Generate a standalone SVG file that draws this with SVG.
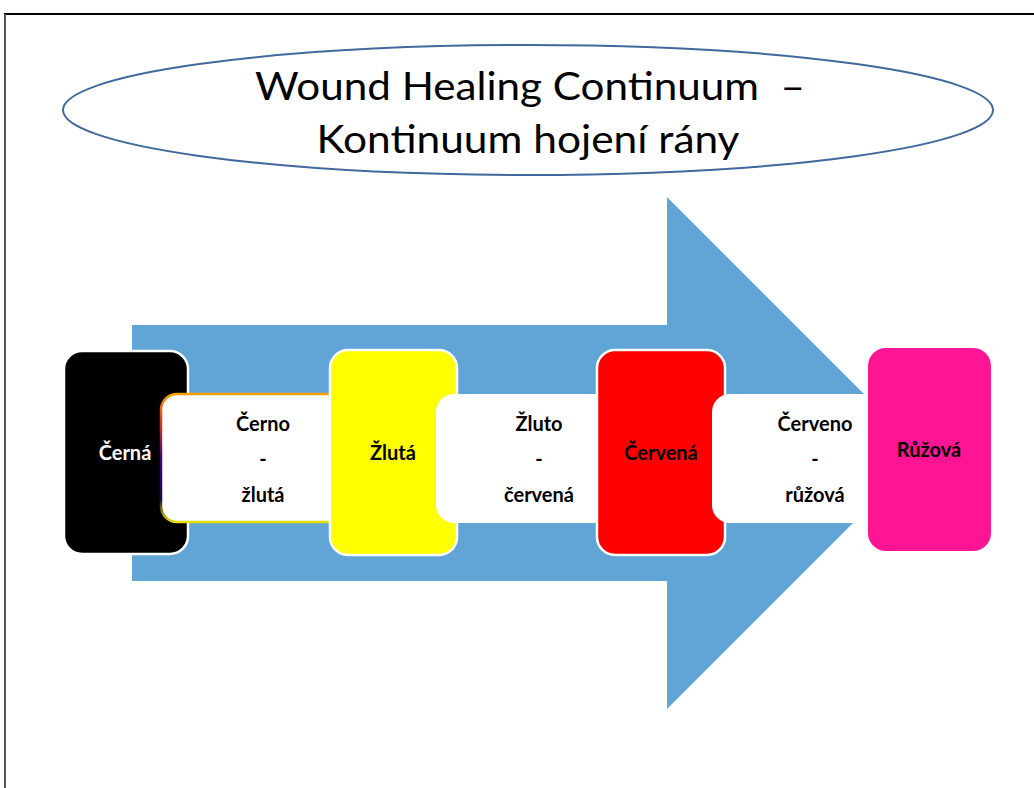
<svg xmlns="http://www.w3.org/2000/svg" width="1034" height="788" viewBox="0 0 1034 788">
  <defs>
    <linearGradient id="g1" x1="0" y1="0" x2="0" y2="1">
      <stop offset="0" stop-color="#F5A200"/>
      <stop offset="0.18" stop-color="#E0481E"/>
      <stop offset="0.5" stop-color="#3A0A6A"/>
      <stop offset="0.82" stop-color="#1A0A40"/>
      <stop offset="1" stop-color="#E6E000"/>
    </linearGradient>
  </defs>
  <style>
    .lbl { font-family: Lato, "Open Sans", sans-serif; font-weight: bold; font-size: 20px; text-anchor: middle; }
    .title { font-family: Lato, "Open Sans", sans-serif; font-size: 38px; text-anchor: middle; fill: #000; }
    .box { stroke: #fff; stroke-width: 2.5; }
    .link { fill: #fff; }
  </style>
  <rect x="0" y="0" width="1034" height="788" fill="#fff"/>
  <line x1="4" y1="14" x2="1034" y2="14" stroke="#000" stroke-width="2"/>
  <line x1="5" y1="14" x2="5" y2="788" stroke="#555" stroke-width="2"/>

  <g id="title">
    <ellipse cx="528" cy="110" rx="465" ry="65" fill="#fff" stroke="#41699C" stroke-width="2"/>
    <text class="title" x="530" y="100" textLength="550" lengthAdjust="spacingAndGlyphs">Wound Healing Continuum&#160; –</text>
    <text class="title" x="528" y="153" textLength="423" lengthAdjust="spacingAndGlyphs">Kontinuum hojení rány</text>
  </g>

  <g id="connectors">
    <polygon points="132,325 667,325 667,197 923,453 667,709 667,581 132,581" fill="#61A5D7"/>
  </g>

  <g id="node-cerna">
    <rect class="box" x="64" y="351" width="124" height="203" rx="18" fill="#000"/>
    <text class="lbl" x="125" y="460" fill="#fff">Černá</text>
  </g>

  <g id="link-cerno-zluta">
    <rect class="link" x="161" y="394" width="200" height="128" rx="16" stroke="url(#g1)" stroke-width="2.5"/>
    <text class="lbl" x="263" y="431" fill="#000">Černo</text>
    <text class="lbl" x="263" y="466" fill="#000">-</text>
    <text class="lbl" x="263" y="502" fill="#000">žlutá</text>
  </g>

  <g id="node-zluta">
    <rect class="box" x="330" y="350" width="127" height="205" rx="18" fill="#FFFF00"/>
    <text class="lbl" x="393" y="460" fill="#000">Žlutá</text>
  </g>

  <g id="link-zluto-cervena">
    <rect class="link" x="436" y="394" width="200" height="129" rx="18"/>
    <text class="lbl" x="539" y="431" fill="#000">Žluto</text>
    <text class="lbl" x="539" y="466" fill="#000">-</text>
    <text class="lbl" x="539" y="502" fill="#000">červená</text>
  </g>

  <g id="node-cervena">
    <rect class="box" x="597" y="350" width="128" height="205" rx="18" fill="#FF0000"/>
    <text class="lbl" x="661" y="460" fill="#000">Červená</text>
  </g>

  <g id="link-cerveno-ruzova">
    <rect class="link" x="712" y="394" width="180" height="129" rx="18"/>
    <text class="lbl" x="815" y="431" fill="#000">Červeno</text>
    <text class="lbl" x="815" y="466" fill="#000">-</text>
    <text class="lbl" x="815" y="502" fill="#000">růžová</text>
  </g>

  <g id="node-ruzova">
    <rect x="868" y="348" width="123" height="203" rx="18" fill="#FF1493"/>
    <text class="lbl" x="929" y="457" fill="#000">Růžová</text>
  </g>
</svg>
